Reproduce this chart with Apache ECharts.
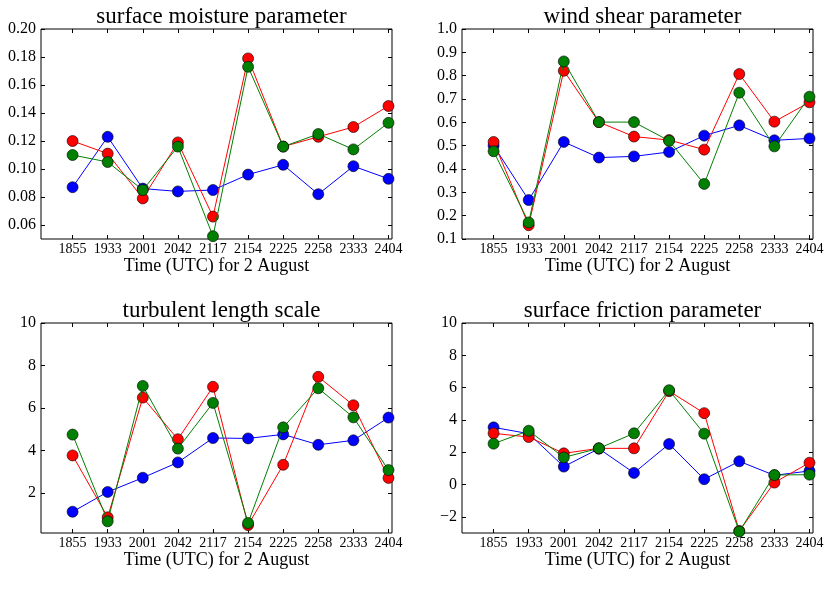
<!DOCTYPE html>
<html lang="en">
<head>
    <meta charset="UTF-8">
    <title>parameters 2 August</title>
    <style>
        html, body { margin: 0; padding: 0; background: #fff; }
        #chart { width: 830px; height: 593px; }
    </style>
</head>
<body>
<div id="chart"></div>
<script src="https://cdn.jsdelivr.net/npm/echarts@6/dist/echarts.min.js"></script>
<script>
    // tick labels along x (times, UTC)
    var times = ['1855', '1933', '2001', '2042', '2117', '2154', '2225', '2258', '2333', '2404'];

    // surface moisture parameter
    var moistureBlue  = [0.087, 0.123, 0.086, 0.084, 0.085, 0.096, 0.103, 0.082, 0.102, 0.093];
    var moistureRed   = [0.120, 0.111, 0.079, 0.119, 0.066, 0.179, 0.116, 0.123, 0.130, 0.145];
    var moistureGreen = [0.110, 0.105, 0.085, 0.116, 0.052, 0.173, 0.116, 0.125, 0.114, 0.133];

    // wind shear parameter
    var shearBlue  = [0.500, 0.267, 0.516, 0.449, 0.454, 0.473, 0.543, 0.587, 0.523, 0.531];
    var shearRed   = [0.516, 0.159, 0.821, 0.601, 0.539, 0.524, 0.483, 0.807, 0.603, 0.686];
    var shearGreen = [0.476, 0.171, 0.861, 0.601, 0.601, 0.521, 0.336, 0.727, 0.497, 0.710];

    // turbulent length scale
    var lengthBlue  = [1.12, 2.05, 2.72, 3.44, 4.59, 4.57, 4.76, 4.27, 4.48, 5.55];
    var lengthRed   = [3.77, 0.86, 6.49, 4.53, 7.00, 0.49, 3.33, 7.47, 6.13, 2.71];
    var lengthGreen = [4.75, 0.67, 7.04, 4.09, 6.24, 0.59, 5.09, 6.93, 5.56, 3.08];

    // surface friction parameter
    var frictionBlue  = [3.54, 3.15, 1.11, 2.22, 0.72, 2.51, 0.33, 1.44, 0.57, 0.84];
    var frictionRed   = [3.17, 2.94, 1.93, 2.24, 2.24, 5.78, 4.42, -2.87, 0.12, 1.35];
    var frictionGreen = [2.53, 3.33, 1.68, 2.24, 3.17, 5.84, 3.15, -2.91, 0.59, 0.61];

    // y tick labels
    var moistureTicks = [0.06, 0.08, 0.10, 0.12, 0.14, 0.16, 0.18, 0.20];
    var shearTicks = [0.1, 0.2, 0.3, 0.4, 0.5, 0.6, 0.7, 0.8, 0.9, 1.0];
    var lengthTicks = [2, 4, 6, 8, 10];
    var frictionTicks = [-2, 0, 2, 4, 6, 8, 10];

    var panels = [
        {title: 'surface moisture parameter', left: 41, top: 29, min: 0.05, max: 0.20, ticks: moistureTicks, digits: 2,
            data: [moistureBlue, moistureRed, moistureGreen]},
        {title: 'wind shear parameter', left: 462, top: 29, min: 0.1, max: 1.0, ticks: shearTicks, digits: 1,
            data: [shearBlue, shearRed, shearGreen]},
        {title: 'turbulent length scale', left: 41, top: 323, min: 0.12, max: 10, ticks: lengthTicks, digits: 0,
            data: [lengthBlue, lengthRed, lengthGreen]},
        {title: 'surface friction parameter', left: 462, top: 323, min: -3, max: 10, ticks: frictionTicks, digits: 0,
            data: [frictionBlue, frictionRed, frictionGreen]}
    ];
    var colors = ['#0000ff', '#ff0000', '#008000'];
    var W = 351, H = 210;
    var serif = 'Liberation Serif';
    var idx = times.map(function (t, i) { return i; });
    var noLine = {show: false, onZero: false};

    var option = {
        animation: false,
        backgroundColor: '#fff',
        title: [], grid: [], xAxis: [], yAxis: [], series: []
    };

    panels.forEach(function (p, k) {
        option.title.push({
            text: p.title, left: p.left + W / 2, top: p.top - 29, textAlign: 'center',
            textStyle: {fontFamily: serif, fontSize: 23, fontWeight: 'normal', color: '#000'}
        });
        option.grid.push({left: p.left, top: p.top, width: W, height: H, show: true,
            borderColor: '#000', borderWidth: 1, backgroundColor: '#fff'});
        // bottom x axis with labels
        option.xAxis.push({
            type: 'value', gridIndex: k, min: -0.9, max: 9.1, position: 'bottom',
            name: 'Time (UTC) for 2 August', nameLocation: 'middle', nameGap: 16,
            nameTextStyle: {fontFamily: serif, fontSize: 18, color: '#000'},
            axisLine: noLine, splitLine: {show: false},
            axisTick: {inside: true, length: 4, customValues: idx, lineStyle: {color: '#000'}},
            axisLabel: {customValues: idx, margin: 3, fontFamily: serif, fontSize: 14, color: '#000',
                formatter: function (v) { return times[Math.round(v)]; }}
        });
        // top x axis, ticks only
        option.xAxis.push({
            type: 'value', gridIndex: k, min: -0.9, max: 9.1, position: 'top',
            axisLine: noLine, splitLine: {show: false}, axisLabel: {show: false},
            axisTick: {inside: true, length: 4, customValues: idx, lineStyle: {color: '#000'}}
        });
        option.yAxis.push({
            type: 'value', gridIndex: k, min: p.min, max: p.max, position: 'left',
            axisLine: noLine, splitLine: {show: false},
            axisTick: {inside: true, length: 4, customValues: p.ticks, lineStyle: {color: '#000'}},
            axisLabel: {customValues: p.ticks, margin: 5, fontFamily: serif, fontSize: 16, color: '#000',
                formatter: function (v) { return v.toFixed(p.digits).replace('-', '\u2212'); }}
        });
        option.yAxis.push({
            type: 'value', gridIndex: k, min: p.min, max: p.max, position: 'right',
            axisLine: noLine, splitLine: {show: false}, axisLabel: {show: false},
            axisTick: {inside: true, length: 4, customValues: p.ticks, lineStyle: {color: '#000'}}
        });
        p.data.forEach(function (vals, s) {
            option.series.push({
                type: 'line', xAxisIndex: 2 * k, yAxisIndex: 2 * k,
                data: vals.map(function (v, i) { return [i, v]; }),
                symbol: 'circle', symbolSize: 11, showAllSymbol: true,
                lineStyle: {color: colors[s], width: 1},
                itemStyle: {color: colors[s], borderColor: '#000', borderWidth: 0.6},
                z: 2 + s
            });
        });
    });

    var myChart = echarts.init(document.getElementById('chart'));
    myChart.setOption(option);
</script>
</body>
</html>
